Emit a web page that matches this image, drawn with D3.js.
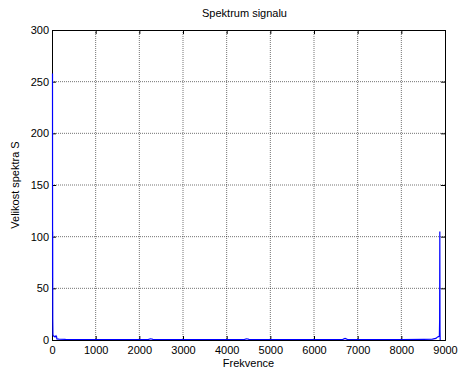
<!DOCTYPE html>
<html>
<head>
<meta charset="utf-8">
<script src="https://cdn.jsdelivr.net/npm/d3@7"></script>
<style>
  body { margin: 0; background: #fff; }
  svg text { font-family: "Liberation Sans", Arial, sans-serif; fill: #000; }
</style>
</head>
<body>
<div id="chart"></div>
<script>
// spectrum samples (frequency, magnitude)
const freq = [0, 2, 4, 6, 10, 20, 40, 60, 80, 95, 100, 150, 300, 600, 1000, 1500, 2200, 2250, 2300,
  3000, 3500, 4000, 4400, 4450, 4500, 5000, 5500, 6000, 6650, 6700, 6750, 7000, 7500, 8000, 8500,
  8700, 8780, 8820, 8850, 8860, 8866, 8870, 8874, 8878];
const magnitude = [258, 60, 105, 20, 5, 4, 3.5, 3, 4, 3, 1, 0.8, 0.6, 0.5, 0.5, 0.5, 0.6, 1.2, 0.6,
  0.5, 0.5, 0.5, 0.6, 1.2, 0.6, 0.5, 0.5, 0.5, 0.6, 1.5, 0.6, 0.5, 0.5, 0.5, 0.6,
  0.8, 1.5, 3, 3.5, 4, 20, 105, 10, 0];
const xTicks = [0, 1000, 2000, 3000, 4000, 5000, 6000, 7000, 8000, 9000];
const yTicks = [0, 50, 100, 150, 200, 250, 300];

const margin = { top: 30, right: 13, bottom: 30, left: 52 };
const W = 458, H = 370;
const width = W - margin.left - margin.right;
const height = H - margin.top - margin.bottom;

const x = d3.scaleLinear().domain([0, 9000]).range([0, width]);
const y = d3.scaleLinear().domain([0, 300]).range([height, 0]);

const svg = d3.select('#chart').append('svg')
  .attr('width', W).attr('height', H)
  .append('g')
  .attr('transform', 'translate(' + margin.left + ',' + margin.top + ')');

// grid (dotted, MATLAB style)
svg.append('g').selectAll('line')
  .data(xTicks.slice(1, -1)).enter().append('line')
  .attr('x1', d => x(d)).attr('x2', d => x(d))
  .attr('y1', 0).attr('y2', height)
  .attr('stroke', '#000').attr('stroke-opacity', 0.55).attr('stroke-width', 1)
  .attr('stroke-dasharray', '1,1');
svg.append('g').selectAll('line')
  .data(yTicks.slice(1, -1)).enter().append('line')
  .attr('x1', 0).attr('x2', width)
  .attr('y1', d => y(d)).attr('y2', d => y(d))
  .attr('stroke', '#000').attr('stroke-opacity', 0.55).attr('stroke-width', 1)
  .attr('stroke-dasharray', '1,1');

// axes with inward ticks, box on
const tk = 4;
svg.append('g')
  .attr('transform', 'translate(0,' + height + ')')
  .call(d3.axisBottom(x).tickValues(xTicks).tickSize(-tk).tickPadding(6).tickFormat(d3.format('d')));
svg.append('g')
  .call(d3.axisTop(x).tickValues(xTicks).tickSize(-tk).tickFormat(''));
svg.append('g')
  .call(d3.axisLeft(y).tickValues(yTicks).tickSize(-tk).tickPadding(3));
svg.append('g')
  .attr('transform', 'translate(' + width + ',0)')
  .call(d3.axisRight(y).tickValues(yTicks).tickSize(-tk).tickFormat(''));

svg.selectAll('.domain').attr('stroke', '#000');
svg.selectAll('.tick line').attr('stroke', '#000');
svg.selectAll('.tick text').style('font-size', '11px');

// spectrum line (drawn over the axes)
const pts = freq.map((f, i) => [f, magnitude[i]]);
svg.append('path')
  .datum(pts)
  .attr('fill', 'none')
  .attr('stroke', '#0000ff')
  .attr('stroke-width', 1.2)
  .attr('d', d3.line().x(d => x(d[0]) + 0.5).y(d => y(d[1])));

// title and labels
svg.append('text')
  .attr('x', width / 2 - 4).attr('y', -13)
  .style('text-anchor', 'middle').style('font-size', '11px')
  .text('Spektrum signalu');

svg.append('text')
  .attr('x', width / 2).attr('y', height + 27)
  .style('text-anchor', 'middle').style('font-size', '11px')
  .text('Frekvence');

svg.append('text')
  .attr('transform', 'rotate(-90)')
  .attr('x', -height / 2).attr('y', -33)
  .style('text-anchor', 'middle').style('font-size', '11px')
  .text('Velikost spektra S');
</script>
</body>
</html>
